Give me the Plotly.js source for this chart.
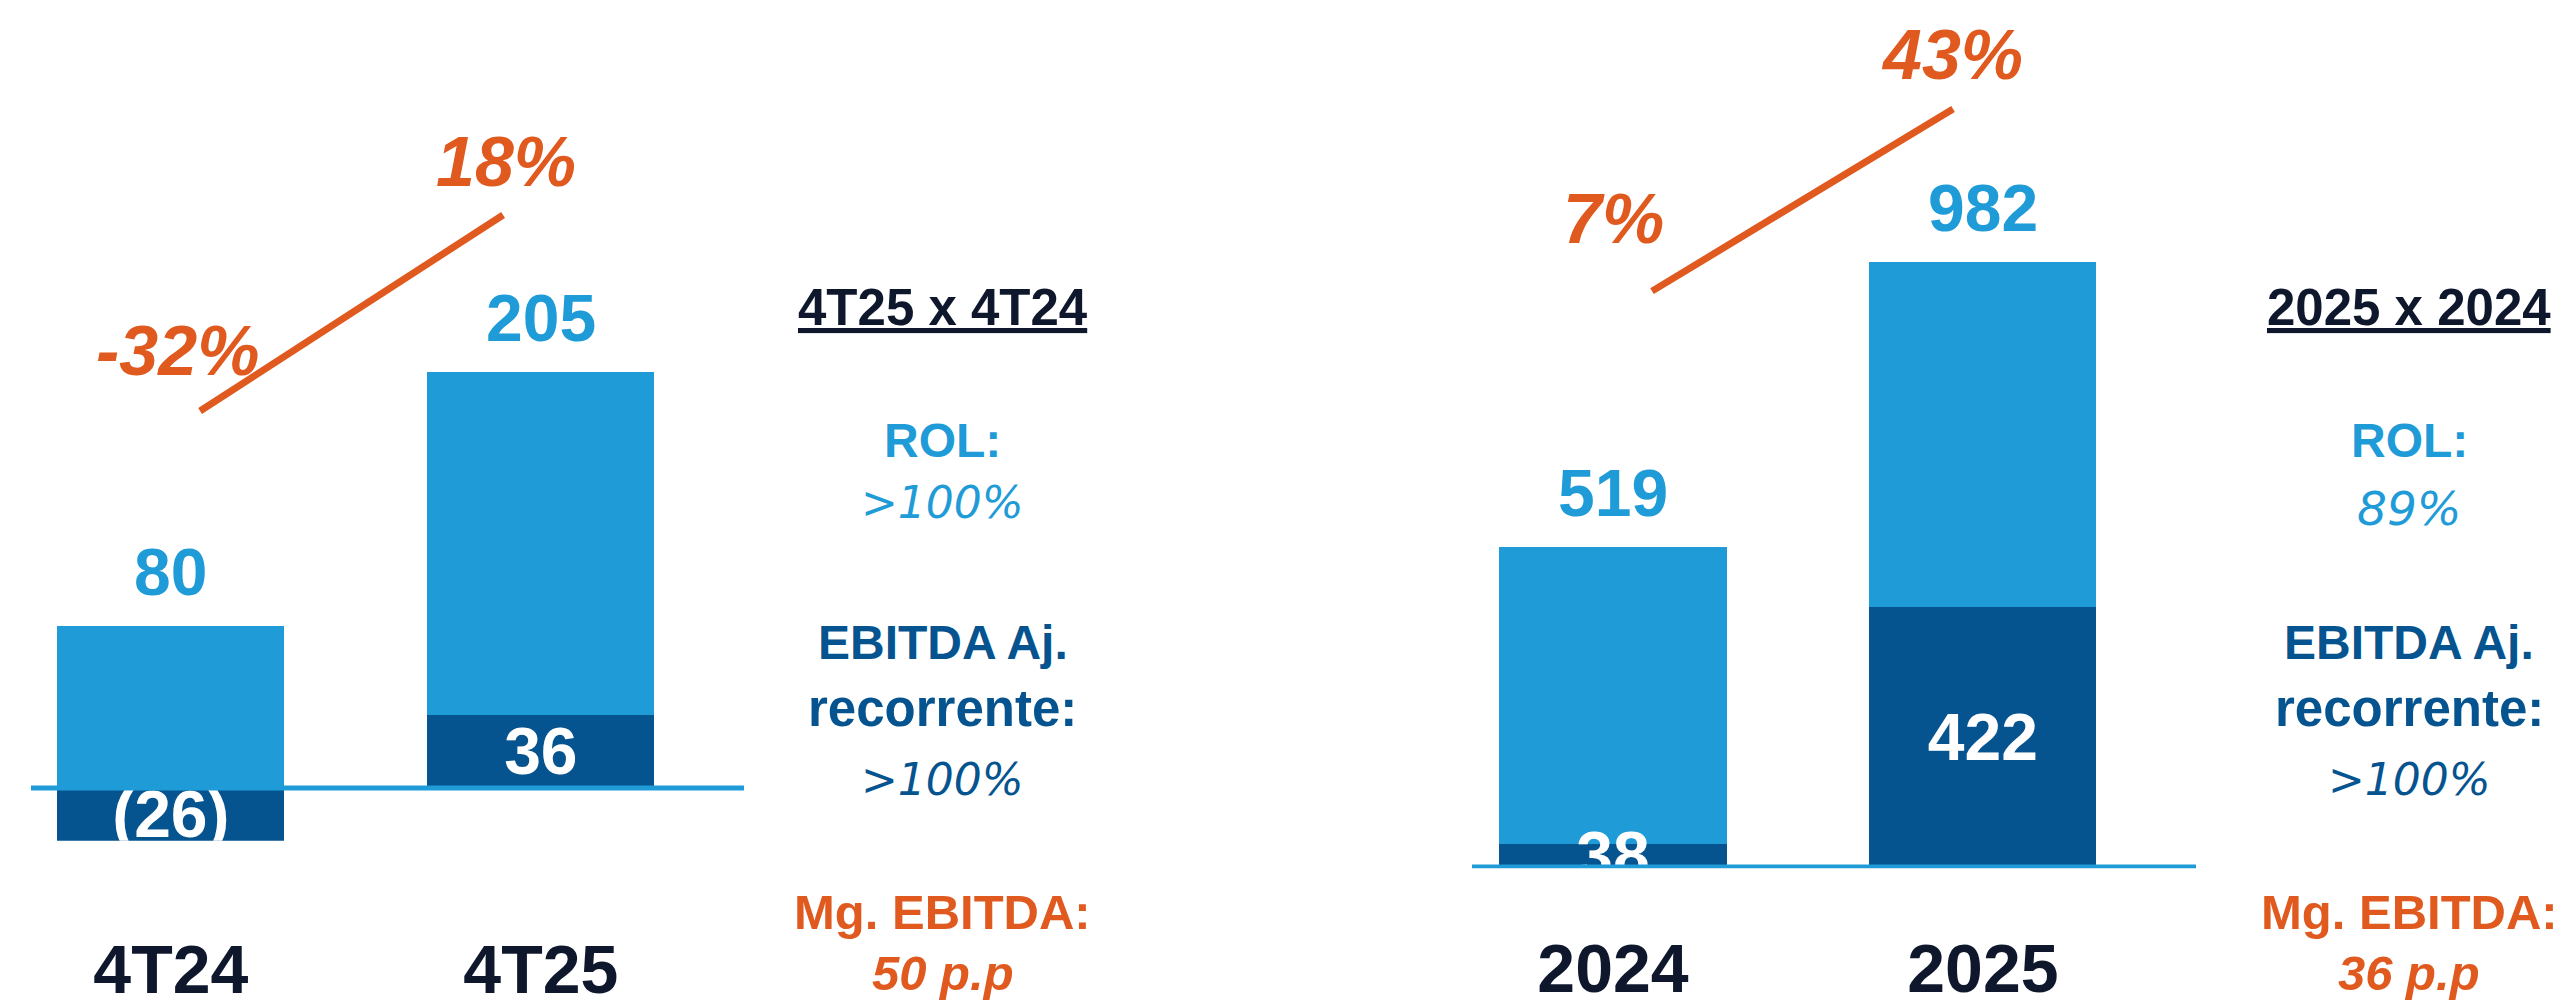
<!DOCTYPE html>
<html>
<head>
<meta charset="utf-8">
<script src="https://cdn.plot.ly/plotly-3.0.1.min.js"></script>
<style>
  html, body { margin: 0; padding: 0; background: #ffffff; }
  #chart { width: 2570px; height: 1006px; }
</style>
</head>
<body>
<div id="chart"></div>
<script>
// ---------------- DATA ----------------
const quarterCats   = ['4T24', '4T25'];
const quarterROL    = [80, 205];
const quarterEBITDA = [-26, 36];
const quarterMargin = [-32, 18];

const yearCats   = ['2024', '2025'];
const yearROL    = [519, 982];
const yearEBITDA = [38, 422];
const yearMargin = [7, 43];

const summaryTitles  = ['4T25 x 4T24', '2025 x 2024'];
const summaryROL     = ['>100%', '89%'];
const summaryEBITDA  = ['>100%', '>100%'];
const summaryMargin  = ['50 p.p', '36 p.p'];
const labelROL       = 'ROL:';
const labelEBITDA    = ['EBITDA Aj.', 'recorrente:'];
const labelMargin    = 'Mg. EBITDA:';

// ---------------- STYLE ----------------
const W = 2570, H = 1006;
const px = v => v / W;
const py = v => 1 - v / H;

const LIGHT = '#1F9BD7', DARK = '#06548F', ORANGE = '#E05A1F', NAVY = '#0E172C';
const SANS = 'Liberation Sans, Arial, sans-serif';
const WIDE = 'DejaVu Sans, Verdana, sans-serif';

const fmt = v => v < 0 ? '(' + Math.abs(v) + ')' : String(v);
const pct = v => v + '%';

function barPair(cats, rol, ebitda, xa, ya) {
  return [
    { type: 'bar', x: cats, y: rol, xaxis: xa, yaxis: ya, width: 0.614,
      marker: { color: LIGHT, line: { width: 0 } }, hoverinfo: 'skip' },
    { type: 'bar', x: cats, y: ebitda, xaxis: xa, yaxis: ya, width: 0.614,
      marker: { color: DARK, line: { width: 0 } },
      text: ebitda.map(fmt), textposition: 'inside', insidetextanchor: 'middle',
      textangle: 0, constraintext: 'none', cliponaxis: true,
      textfont: { family: SANS, size: 66, color: '#FFFFFF', weight: 700 },
      hoverinfo: 'skip' }
  ];
}
function marginLine(cats, m, xa, ya) {
  return { type: 'scatter', mode: 'lines', x: cats, y: m, xaxis: xa, yaxis: ya,
           line: { color: ORANGE, width: 7 }, hoverinfo: 'skip' };
}

const data = [
  ...barPair(quarterCats, quarterROL, quarterEBITDA, 'x', 'y'),
  marginLine(quarterCats, quarterMargin, 'x2', 'y2'),
  ...barPair(yearCats, yearROL, yearEBITDA, 'x3', 'y3'),
  marginLine(yearCats, yearMargin, 'x4', 'y4')
];

function catAxis(dom, range, anchor, standoff) {
  return { domain: dom, range: range, anchor: anchor, type: 'category',
    showgrid: false, zeroline: false, showline: false, ticks: '',
    ticklabelstandoff: standoff,
    tickfont: { family: SANS, size: 68, color: NAVY, weight: 700 },
    fixedrange: true };
}
function hiddenAxis(extra) {
  return Object.assign({ visible: false, showgrid: false, zeroline: false, fixedrange: true }, extra);
}

// annotations (x given as category index, i.e. the position of each category)
function topLabels(cats, vals, xr, yr) {
  return cats.map((c, i) => ({ xref: xr, yref: yr, x: i, y: vals[i], text: String(vals[i]),
    showarrow: false, xanchor: 'center', yanchor: 'bottom', yshift: 15,
    font: { family: SANS, size: 66, color: LIGHT, weight: 700 } }));
}
function marginLabels(cats, m, xr, yr, shifts) {
  return cats.map((c, i) => ({ xref: xr, yref: yr, x: i, y: m[i], text: pct(m[i]),
    showarrow: false, xanchor: 'center', yanchor: 'bottom',
    xshift: shifts[i][0], yshift: shifts[i][1],
    font: { family: SANS, size: 70, color: ORANGE, weight: 700, style: 'italic' } }));
}
function colText(cx, baseline, text, font) {
  return { xref: 'paper', yref: 'paper', x: px(cx), y: py(baseline - 0.3465 * font.size),
    xanchor: 'center', yanchor: 'middle', showarrow: false, text: text, font: font };
}
function column(i, cx, valSize, valBase) {
  return [
    colText(cx, 325, '<u>' + summaryTitles[i] + '</u>', { family: SANS, size: 51, color: NAVY, weight: 700 }),
    colText(cx, 457, labelROL, { family: SANS, size: 48, color: LIGHT, weight: 700 }),
    colText(cx, valBase, summaryROL[i], { family: WIDE, size: valSize, color: LIGHT, style: 'italic' }),
    colText(cx, 659, labelEBITDA[0], { family: SANS, size: 48, color: DARK, weight: 700 }),
    colText(cx, 726, labelEBITDA[1], { family: SANS, size: 51, color: DARK, weight: 700 }),
    colText(cx, 795, summaryEBITDA[i], { family: WIDE, size: 44, color: DARK, style: 'italic' }),
    colText(cx, 929, labelMargin, { family: SANS, size: 49, color: ORANGE, weight: 700 }),
    colText(cx, 990, summaryMargin[i], { family: SANS, size: 49, color: ORANGE, weight: 700, style: 'italic' })
  ];
}

const annotations = [
  ...topLabels(quarterCats, quarterROL, 'x', 'y'),
  ...topLabels(yearCats, yearROL, 'x3', 'y3'),
  ...marginLabels(quarterCats, quarterMargin, 'x2', 'y2', [[-23, 19], [3, 12]]),
  ...marginLabels(yearCats, yearMargin, 'x4', 'y4', [[-39, 31], [-1, 13]]),
  ...column(0, 943, 44, 518),
  ...column(1, 2409, 47, 525)
];

const layout = {
  width: W, height: H,
  margin: { l: 0, r: 0, t: 0, b: 0, pad: 0 },
  paper_bgcolor: '#FFFFFF', plot_bgcolor: 'rgba(0,0,0,0)',
  showlegend: false, barmode: 'overlay', bargap: 0,
  xaxis:  catAxis([px(31), px(744)], [-0.378, 1.549], 'y', 83),
  yaxis:  hiddenAxis({ domain: [py(840.78), 1], range: [-26, 388.18], anchor: 'x' }),
  xaxis2: hiddenAxis({ overlaying: 'x', type: 'category', range: [-0.558, 1.795], anchor: 'y2' }),
  yaxis2: hiddenAxis({ overlaying: 'y', range: [-141.64, 72.85], anchor: 'x2' }),
  xaxis3: catAxis([px(1472), px(2196)], [-0.381, 1.576], 'y3', 55),
  yaxis3: hiddenAxis({ domain: [py(868.2), 1], range: [-2, 1407.5], anchor: 'x3' }),
  xaxis4: hiddenAxis({ overlaying: 'x3', type: 'category', range: [-0.598, 1.807], anchor: 'y4' }),
  yaxis4: hiddenAxis({ overlaying: 'y3', range: [-107.1, 64.56], anchor: 'x4' }),
  shapes: [
    { type: 'line', xref: 'x domain', yref: 'y', x0: 0, x1: 1, y0: 0, y1: 0,
      line: { color: LIGHT, width: 5 }, layer: 'above' },
    { type: 'line', xref: 'x3 domain', yref: 'y3', x0: 0, x1: 1, y0: 0, y1: 0,
      line: { color: LIGHT, width: 5 }, layer: 'above' }
  ],
  annotations: annotations
};

Plotly.newPlot('chart', data, layout, { staticPlot: true, displayModeBar: false });
</script>
</body>
</html>
